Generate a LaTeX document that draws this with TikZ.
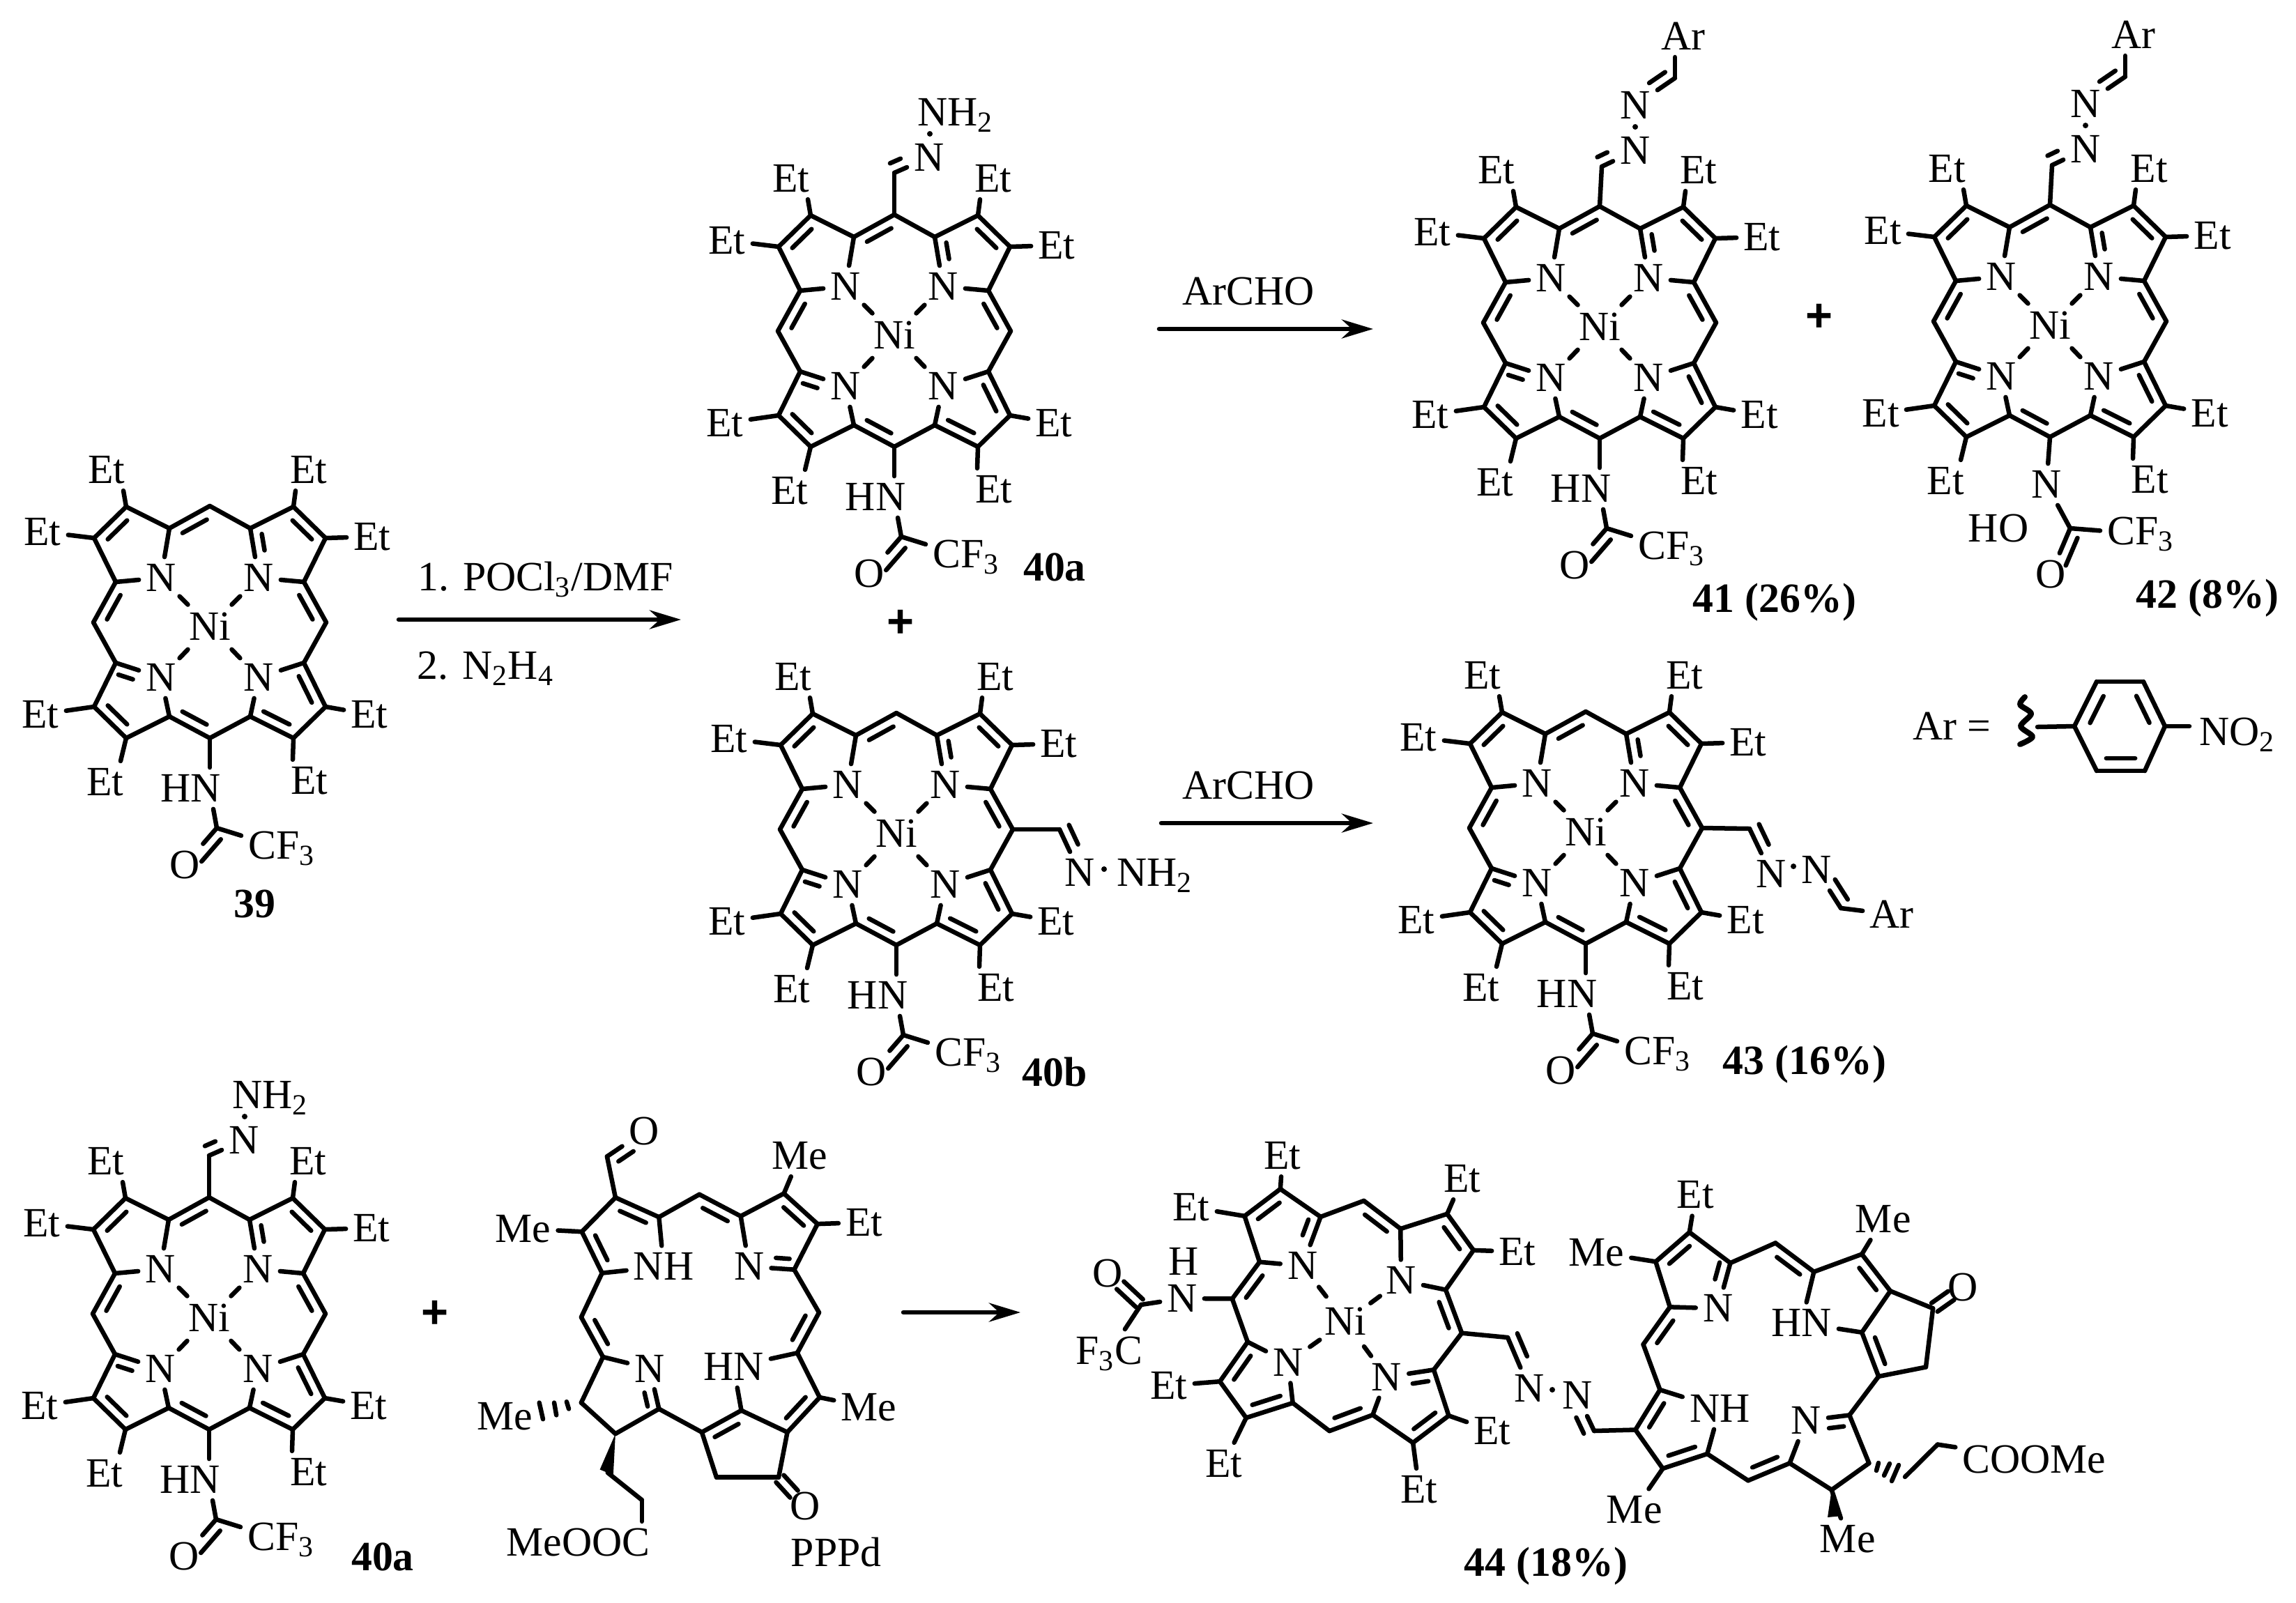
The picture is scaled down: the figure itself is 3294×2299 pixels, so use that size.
\documentclass[tikz,border=0pt]{standalone}
\usepackage{fontspec}
\setmainfont{Liberation Serif}
\newfontfamily\plusfont{Liberation Sans}
\usetikzlibrary{arrows.meta,calc}

\newcommand{\bondgap}{0.15cm}
\newcommand{\inbond}[5]{%
	\draw ($(#1)!#4!(#2)!#3*\bondgap!90:(#2)$) -- ($(#1)!#5!(#2)!#3*\bondgap!90:(#2)$);}
\newcommand{\dbl}[3]{%
	\draw (#1) -- (#2);
	\inbond{#1}{#2}{#3}{0.2}{0.8}}

\newcommand{\nicore}[4][0,7.5]{%
	\begin{scope}[shift={#3},rotate=#4]
		\foreach \nm/\px/\py in {mt/0/-167,a1/58/-135,b1/120/-166,b2/166/-121,a2/135/-58,mr/167/0,
			a3/135/58,b3/166/121,b4/120/166,a4/58/135,mb/0/166,a5/-58/135,b5/-120/166,b6/-166/121,
			a6/-135/58,ml/-167/0,a7/-135/-58,b7/-166/-121,b8/-120/-166,a8/-58/-135}
			\coordinate (#2\nm) at (\px,\py);
		\begin{scope}[shift={(#1)}]
			\node[atom] (#2NA) at (-70,-71.5) {N};
			\node[atom] (#2NB) at (70,-71.5) {N};
			\node[atom] (#2NC) at (70,71.5) {N};
			\node[atom] (#2ND) at (-70,71.5) {N};
			\node[atom] (#2Ni) at (0,-1.5) {Ni};
		\end{scope}
	\end{scope}
	\foreach \p/\q in {mt/a1,a1/b1,b2/a2,mr/a3,b3/b4,a4/mb,a5/b5,b6/a6,a6/ml,a7/b7,b8/a8,
		a8/NA,a7/NA,a2/NB,a3/NC,a4/NC,a5/ND}
		\draw (#2\p) -- (#2\q);
	\foreach \p/\q in {a8/mt,b7/b8,ml/a7,b1/b2,a2/mr,a3/b3,b4/a4,mb/a5,b5/b6}
		\dbl{#2\p}{#2\q}{-1};
	\draw (#2a1) -- (#2NB);
	\inbond{#2a1}{#2NB}{1}{0.15}{0.48}
	\draw (#2a6) -- (#2ND);
	\inbond{#2a6}{#2ND}{-1}{0.13}{0.45}
	\foreach \p in {NA,NB,NC,ND}
		\draw ($(#2\p)!0.38!(#2Ni)$) -- ($(#2\p)!0.55!(#2Ni)$);
}

\newcommand{\etgroup}[2]{%
	\begin{scope}[shift={#2}]
		\foreach \e/\ex/\ey in {b8/-148/-219,b7/-240/-130,b1/142/-219,b2/233/-123,
			b3/229/132,b4/143/227,b5/-150/229,b6/-243/132}
			\node[atom] (#1e\e) at (\ex,\ey) {Et};
	\end{scope}
	\foreach \e/\dx in {b8/0.24cm,b1/-0.19cm}
		\draw (#1\e) -- ([xshift=\dx]#1e\e.south);
	\foreach \e/\dx in {b5/0.22cm,b4/-0.24cm}
		\draw (#1\e) -- ([xshift=\dx]#1e\e.north);
	\foreach \e in {b7,b2,b3,b6}
		\draw (#1\e) -- (#1e\e);
}

\newcommand{\tfamide}[2]{%
	\begin{scope}[shift={#2}]
		\node[atom] (#1HN) at (-27,238) {HN};
		\coordinate (#1CO) at (10,295);
		\node[atom] (#1O) at (-36,348) {O};
		\node[atom,anchor=base west] (#1CF) at (45,339) {CF\textsubscript{3}};
	\end{scope}
	\draw (#1mb) -- (#1mb |- #1HN.north);
	\draw (#1CO) -- ([xshift=0.32cm]#1HN.south);
	\draw (#1CO) -- (#1CF);
	\draw (#1CO) -- (#1O);
	\inbond{#1CO}{#1O}{1}{0.12}{0.72}
}

\newcommand{\hydrtop}[2]{%
	\begin{scope}[shift={#2}]
		\coordinate (#1CH) at (0,-227);
		\node[atom] (#1Na) at (50,-249) {N};
		\node[nndot] (#1dot) at (51,-283) {};
		\node[atom,anchor=base west] (#1NH) at (23,-295) {NH\textsubscript{2}};
	\end{scope}
	\draw (#1mt) -- (#1CH);
	\draw (#1CH) -- (#1Na);
	\inbond{#1CH}{#1Na}{1}{0}{0.3}
}

\newcommand{\azotop}[2]{%
	\begin{scope}[shift={#2}]
		\coordinate (#1CH) at (3,-224);
		\node[atom] (#1Na) at (51,-247) {N};
		\node[nndot] (#1dot) at (51,-281) {};
		\node[atom] (#1Nb) at (51,-312) {N};
		\coordinate (#1CA) at (108,-351);
		\node[atom] (#1Ar) at (120,-411) {Ar};
	\end{scope}
	\draw (#1mt) -- (#1CH);
	\draw (#1CH) -- (#1Na);
	\inbond{#1CH}{#1Na}{1}{0}{0.3}
	\draw (#1Nb) -- (#1CA);
	\inbond{#1CA}{#1Nb}{-1}{0.1}{0.5}
	\draw (#1CA) -- (#1CA |- #1Ar.south);
}

\tikzset{
	atom/.style={font=\fontsize{17}{19}\selectfont,inner sep=0.07cm},
	lab/.style={font=\fontsize{17}{19}\selectfont\bfseries,inner sep=0pt},
	txt/.style={font=\fontsize{17}{19}\selectfont,inner sep=0pt},
	plus/.style={font=\fontsize{19}{21}\selectfont\plusfont\bfseries,inner sep=0pt},
	nndot/.style={circle,fill,inner sep=0pt,minimum size=0.08cm},
	rxn/.style={-{Stealth[length=0.45cm,width=0.27cm]}}
}

\begin{document}
\begin{tikzpicture}[x=0.01cm,y=-0.01cm,line width=0.065cm,line cap=round,line join=round]
	\useasboundingbox (0,0) rectangle (3294,2299);

	% 39
	\nicore{p39}{(301,893)}{0}
	\etgroup{p39}{(301,893)}
	\tfamide{p39}{(301,893)}
	\node[lab] (lab39) at (365,1297) {39};

	% first step
	\coordinate (r1a) at (572,889);
	\coordinate (r1b) at (977,889);
	\draw[rxn] (r1a) -- (r1b);
	\node[txt,anchor=base west] (r1t) at (596,847) {1. POCl\textsubscript{3}/DMF};
	\node[txt,anchor=base west] (r1u) at (595,974) {2. N\textsubscript{2}H\textsubscript{4}};

	% 40a
	\nicore{p40a}{(1283,475)}{0}
	\etgroup{p40a}{(1283,475)}
	\tfamide{p40a}{(1283,475)}
	\hydrtop{p40a}{(1283,475)}
	\node[lab] (lab40a) at (1513,814) {40a};
	\node[plus] (plusa) at (1292,895) {+};

	% 40b
	\nicore{p40b}{(1286,1190)}{0}
	\etgroup{p40b}{(1286,1190)}
	\tfamide{p40b}{(1286,1190)}
	\begin{scope}[shift={(1286,1190)}]
		\coordinate (p40bCH) at (234,0);
		\node[atom] (p40bNa) at (263,62) {N};
		\node[nndot] (p40bdot) at (298,57) {};
		\node[atom,anchor=base west] (p40bNH) at (306,81) {NH\textsubscript{2}};
	\end{scope}
	\draw (p40bmr) -- (p40bCH);
	\draw (p40bCH) -- (p40bNa);
	\inbond{p40bCH}{p40bNa}{1}{0}{0.45}
	\node[lab] (lab40b) at (1513,1538) {40b};

	% ArCHO steps
	\coordinate (r2a) at (1663,472);
	\coordinate (r2b) at (1970,472);
	\draw[rxn] (r2a) -- (r2b);
	\node[txt] (r2t) at (1791,418) {ArCHO};
	\coordinate (r3a) at (1666,1181);
	\coordinate (r3b) at (1970,1181);
	\draw[rxn] (r3a) -- (r3b);
	\node[txt] (r3t) at (1791,1127) {ArCHO};

	% 41
	\nicore{p41}{(2295,463)}{0}
	\etgroup{p41}{(2295,463)}
	\tfamide{p41}{(2295,463)}
	\azotop{p41}{(2295,463)}
	\node[lab] (lab41) at (2546,864) {41 (26\%)};
	\node[plus] (plusb) at (2610,456) {+};

	% 42
	\nicore{p42}{(2941,461)}{0}
	\etgroup{p42}{(2941,461)}
	\azotop{p42}{(2941,461)}
	\begin{scope}[shift={(2941,461)}]
		\node[atom] (p42Nc) at (-5,234) {N};
		\node[atom] (p42HO) at (-74,297) {HO};
		\coordinate (p42CO) at (29,297);
		\node[atom] (p42O) at (1,363) {O};
		\node[atom,anchor=base west] (p42CF) at (72,320) {CF\textsubscript{3}};
	\end{scope}
	\draw (p42mb) -- (p42Nc);
	\draw (p42Nc) -- (p42CO);
	\draw (p42CO) -- (p42CF);
	\draw (p42CO) -- (p42O);
	\inbond{p42CO}{p42O}{1}{0.12}{0.72}
	\node[lab] (lab42) at (3167,858) {42 (8\%)};

	% Ar
	\node[txt,anchor=base] (arlab) at (2800,1061) {Ar =};
	\foreach \nm/\px/\py in {v1/3008/978,v2/3075/978,v3/3106/1042,v4/3077/1106,v5/3008/1106,v6/2976/1042}
		\coordinate (\nm) at (\px,\py);
	\draw (v1) -- (v2);
	\dbl{v6}{v1}{-1.2}
	\dbl{v2}{v3}{-1.2}
	\dbl{v4}{v5}{-1.2}
	\draw (v3) -- (v4) (v5) -- (v6);
	\coordinate (wv) at (2923,1043);
	\draw (wv) -- (v6);
	\draw[line width=0.08cm] plot[smooth] coordinates {(2905,1000) (2898,1011) (2914,1024) (2899,1042) (2916,1057) (2898,1068)};
	\node[atom,anchor=base west] (arno) at (3145,1069) {NO\textsubscript{2}};
	\draw (v3) -- (3141,1042);

	% 43
	\nicore{p43}{(2275,1188)}{0}
	\etgroup{p43}{(2275,1188)}
	\tfamide{p43}{(2275,1188)}
	\begin{scope}[shift={(2275,1188)}]
		\coordinate (p43CH) at (235,1);
		\node[atom] (p43Na) at (266,66) {N};
		\node[nndot] (p43dot) at (298,55) {};
		\node[atom] (p43Nb) at (331,60) {N};
		\coordinate (p43CA) at (366,115);
		\node[atom] (p43Ar) at (439,124) {Ar};
	\end{scope}
	\draw (p43mr) -- (p43CH);
	\draw (p43CH) -- (p43Na);
	\inbond{p43CH}{p43Na}{1}{0}{0.45}
	\draw (p43Nb) -- (p43CA);
	\inbond{p43CA}{p43Nb}{-1}{0.08}{0.6}
	\draw (p43CA) -- (p43Ar);
	\node[lab] (lab43) at (2589,1527) {43 (16\%)};

	% 40a again
	\nicore{p40c}{(300,1885)}{0}
	\etgroup{p40c}{(300,1885)}
	\tfamide{p40c}{(300,1885)}
	\hydrtop{p40c}{(300,1885)}
	\node[lab] (lab40c) at (549,2234) {40a};
	\node[plus] (plusc) at (624,1886) {+};

	% PPPd
	\begin{scope}[shift={(680,1600)},scale=0.446]
		\foreach \nm/\px/\py in {c1/428/133,q1/455/265,q2/347/375,q3/412/508,q4/595/328,q5/725/255,
			q6/858/325,q7/997/252,q8/1105/350,q9/1030/497,q10/1110/635,q11/1040/765,q12/1112/908,
			q13/1008/1020,q14/860/950,q15/733/1020,q16/780/1165,q17/980/1165,q18/595/945,q19/455/1025,
			q20/345/925,q21/415/778,q22/345/650,c2/430/1150,c3/540/1238}
			\coordinate (\nm) at (\px,\py);
		\node[atom] (ppO) at (548,52) {O};
		\node[atom] (ppNH) at (610,487) {NH};
		\node[atom] (ppN) at (885,487) {N};
		\node[atom] (ppHN) at (835,810) {HN};
		\node[atom] (ppNd) at (565,815) {N};
		\node[atom] (ppMea) at (158,365) {Me};
		\node[atom] (ppMeb) at (1048,130) {Me};
		\node[atom] (ppEt) at (1255,345) {Et};
		\node[atom] (ppMec) at (1270,940) {Me};
		\node[atom] (ppMed) at (100,968) {Me};
		\node[atom] (ppOb) at (1065,1258) {O};
		\node[atom] (ppEster) at (335,1375) {MeOOC};
		\node[txt] (pplab) at (1165,1405) {PPPd};
		\draw (298,922) -- (305,945) (258,925) -- (265,965) (210,925) -- (222,978);
		\fill (455,1025) -- (405,1140) -- (448,1158) -- cycle;
	\end{scope}
	\foreach \p/\q in {q1/c1,q1/q2,q3/ppNH,q4/ppNH,q4/q5,q6/ppN,q6/q7,q8/q9,q9/q10,q11/ppHN,q11/q12,
		q14/ppHN,q13/q14,q15/q16,q16/q17,q17/q13,q18/q15,q18/q19,q19/q20,q20/q21,q21/ppNd,q22/q3,
		q2/ppMea,q7/ppMeb,q8/ppEt,q12/ppMec,c2/c3}
		\draw (\p) -- (\q);
	\foreach \p/\q/\s in {q3/q2/-1,q1/q4/-1,q5/q6/-1,q7/q8/-1,q10/q11/-1,q12/q13/-1,q14/q15/1,q21/q22/-1}
		\dbl{\p}{\q}{\s};
	\draw (c1) -- (ppO);
	\inbond{c1}{ppO}{-1}{0.15}{0.55}
	\draw (q9) -- (ppN);
	\inbond{q9}{ppN}{-1}{0.12}{0.42}
	\draw (q18) -- (ppNd);
	\inbond{q18}{ppNd}{1}{0.12}{0.46}
	\inbond{q17}{ppOb}{0.5}{0.05}{0.58}
	\inbond{q17}{ppOb}{-0.5}{0.05}{0.58}
	\draw (c3) -- (c3 |- ppEster.north);
	\coordinate (r4a) at (1296,1883);
	\coordinate (r4b) at (1464,1883);
	\draw[rxn] (r4a) -- (r4b);

	% 44, nickel half
	\nicore[8.3,1.8]{p44}{(1932,1888)}{-98.5}
	\foreach \e/\ex/\ey in {b6/1840/1658,b5/1709/1732,b7/2098/1691,b8/2177/1796,
		b4/1677/1988,b3/1756/2100,b1/2141/2053,b2/2036/2137}{
		\node[atom] (p44e\e) at (\ex,\ey) {Et};
		\draw (p44\e) -- (p44e\e);
	}
	\node[atom] (p44N) at (1696,1863) {N};
	\node[atom] (p44H) at (1698,1810) {H};
	\coordinate (p44CO) at (1637,1872);
	\node[atom] (p44O) at (1589,1827) {O};
	\node[atom,anchor=base] (p44CF) at (1591,1957) {F\textsubscript{3}C};
	\draw (p44mb) -- (p44N);
	\draw (p44N) -- (p44CO);
	\draw (p44CO) -- (p44CF);
	\inbond{p44CO}{p44O}{0.5}{0.05}{0.62}
	\inbond{p44CO}{p44O}{-0.5}{0.05}{0.62}

	% azine bridge
	\coordinate (brA) at (2163,1919);
	\node[atom] (brNa) at (2194,1992) {N};
	\node[nndot] (brdot) at (2227,1994) {};
	\node[atom] (brNb) at (2263,2002) {N};
	\coordinate (brB) at (2287,2053);
	\draw (p44mt) -- (brA);
	\draw (brA) -- (brNa);
	\inbond{brA}{brNa}{1}{0}{0.45}
	\draw (brB) -- (brNb);
	\inbond{brB}{brNb}{1}{0.05}{0.5}
	\node[lab] (lab44) at (2218,2247) {44 (18\%)};

	% 44, pheophorbide half
	\begin{scope}[shift={(2230,1680)},xscale=0.51,yscale=0.383]
		\foreach \nm/\px/\py in {s1/380/230,s2/285/340,s3/325/510,s4/495/345,s5/622/270,s6/730/378,
			s7/865/312,s8/945/450,s9/1065/515,s10/865/605,s11/912/770,s12/1045/735,s13/830/915,
			s14/885/1095,s15/780/1195,s17/1078/1025,s18/662/1095,s19/545/1160,
			s20/430/1060,s21/305/1115,s22/228/970,s23/297/820,s24/250/650}
			\coordinate (\nm) at (\px,\py);
		\node[atom] (shEt) at (397,90) {Et};
		\node[atom] (shMea) at (118,305) {Me};
		\node[atom] (shN) at (460,515) {N};
		\node[atom] (shHN) at (695,570) {HN};
		\node[atom] (shMeb) at (925,180) {Me};
		\node[atom] (shO) at (1150,435) {O};
		\node[atom] (shNb) at (708,935) {N};
		\node[atom] (shNH) at (465,890) {NH};
		\node[atom] (shMec) at (225,1270) {Me};
		\node[atom] (shMed) at (825,1380) {Me};
		\node[atom] (shEster) at (1350,1080) {COOMe};
	\end{scope}
	\coordinate (s16) at (2733,2119);
	\draw (2695,2099) -- (2692,2110) (2711,2100) -- (2703,2117) (2724,2102) -- (2714,2125);
	\fill (2628,2135) -- (2622,2177) -- (2643,2175) -- cycle;
	\foreach \p/\q in {s1/shEt,s2/shMea,s2/s3,s3/shN,s1/s4,s4/s5,s6/shHN,s6/s7,s7/shMeb,s8/s9,s8/s10,
		s10/shHN,s9/s12,s12/s11,s11/s13,s13/s14,s14/s15,s15/s18,s18/shNb,s19/s20,s20/shNH,s21/shMec,
		s21/s22,s23/shNH,s23/s24,s16/s17,s17/shEster,brB/s22,s15/shMed}
		\draw (\p) -- (\q);
	\foreach \p/\q/\s in {s2/s1/-1,s5/s6/-1,s7/s8/-1,s10/s11/1,s18/s19/-1,s20/s21/-1,s22/s23/-1,s24/s3/-1}
		\dbl{\p}{\q}{\s};
	\draw (s4) -- (shN);
	\inbond{s4}{shN}{-1}{0.05}{0.42}
	\draw (s13) -- (shNb);
	\inbond{s13}{shNb}{1}{0.16}{0.5}
	\inbond{s9}{shO}{0.5}{0.05}{0.6}
	\inbond{s9}{shO}{-0.5}{0.05}{0.6}
\end{tikzpicture}
\end{document}
